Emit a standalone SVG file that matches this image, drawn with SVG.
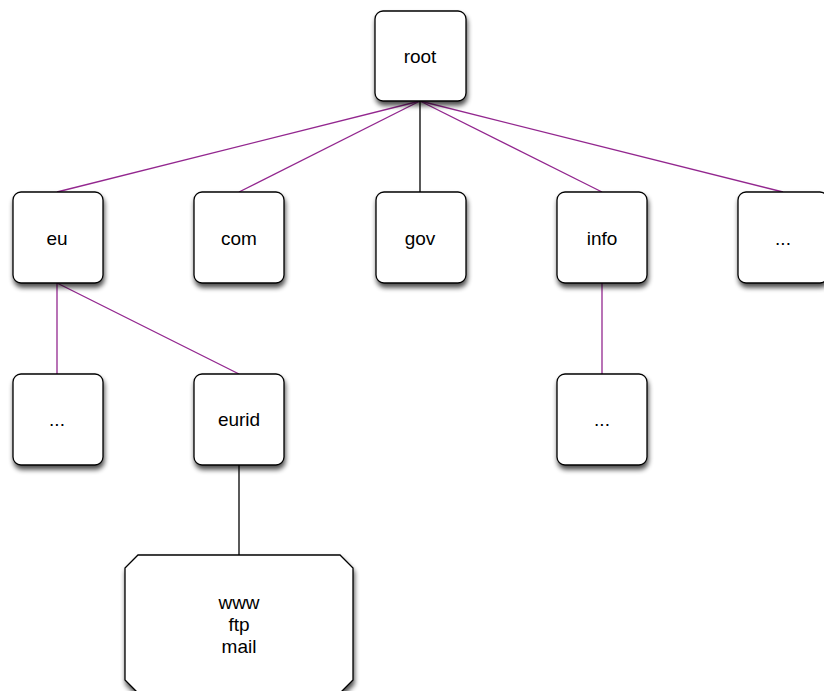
<svg xmlns="http://www.w3.org/2000/svg" width="824" height="691" viewBox="0 0 824 691">
<defs>
<filter id="sh" x="-20%" y="-20%" width="150%" height="150%">
<feGaussianBlur in="SourceAlpha" stdDeviation="2.5"/>
<feOffset dx="1" dy="4" result="b"/>
<feComponentTransfer><feFuncA type="linear" slope="0.7"/></feComponentTransfer>
<feMerge><feMergeNode/><feMergeNode in="SourceGraphic"/></feMerge>
</filter>
</defs>
<style>
.n{fill:#fff;stroke:#000;stroke-width:1.3;filter:url(#sh)}
.t{font-family:"Liberation Sans",Arial,sans-serif;font-size:19px;fill:#000;text-anchor:middle;dominant-baseline:central}
.p{stroke:#93278f;stroke-width:1.3;fill:none}
.k{stroke:#000;stroke-width:1.3;fill:none}
</style>
<rect width="824" height="691" fill="#fff"/>
<g id="connectors">
<line class="p" x1="420" y1="101" x2="57" y2="192"/>
<line class="p" x1="420" y1="101" x2="239" y2="192"/>
<line class="k" x1="420" y1="101" x2="420" y2="192"/>
<line class="p" x1="420" y1="101" x2="602" y2="192"/>
<line class="p" x1="420" y1="101" x2="783" y2="192"/>
<line class="p" x1="57" y1="283" x2="57" y2="374"/>
<line class="p" x1="57" y1="283" x2="239" y2="374"/>
<line class="p" x1="602" y1="283" x2="602" y2="374"/>
<line class="k" x1="239" y1="465" x2="239" y2="555"/>
</g>
<g id="root"><rect class="n" x="375" y="11" width="91" height="90" rx="8"/><text class="t" x="420" y="56">root</text></g>
<g id="eu"><rect class="n" x="13" y="192" width="90" height="91" rx="8"/><text class="t" x="57" y="238">eu</text></g>
<g id="com"><rect class="n" x="194" y="192" width="90" height="91" rx="8"/><text class="t" x="239" y="238">com</text></g>
<g id="gov"><rect class="n" x="376" y="192" width="90" height="91" rx="8"/><text class="t" x="420" y="238">gov</text></g>
<g id="info"><rect class="n" x="557" y="192" width="90" height="91" rx="8"/><text class="t" x="602" y="238">info</text></g>
<g id="more1"><rect class="n" x="738" y="192" width="90" height="91" rx="8"/><text class="t" x="783" y="238">...</text></g>
<g id="eu-more"><rect class="n" x="13" y="374" width="90" height="91" rx="8"/><text class="t" x="57" y="419">...</text></g>
<g id="eurid"><rect class="n" x="194" y="374" width="90" height="91" rx="8"/><text class="t" x="239" y="419">eurid</text></g>
<g id="info-more"><rect class="n" x="557" y="374" width="90" height="91" rx="8"/><text class="t" x="602" y="419">...</text></g>
<g id="hosts"><path class="n" d="M138,555 L340,555 L353,568 L353,680 L340,693 L138,693 L125,680 L125,568 Z"/>
<text class="t" x="239" y="602">www</text><text class="t" x="239" y="624">ftp</text><text class="t" x="239" y="646">mail</text></g>
</svg>
